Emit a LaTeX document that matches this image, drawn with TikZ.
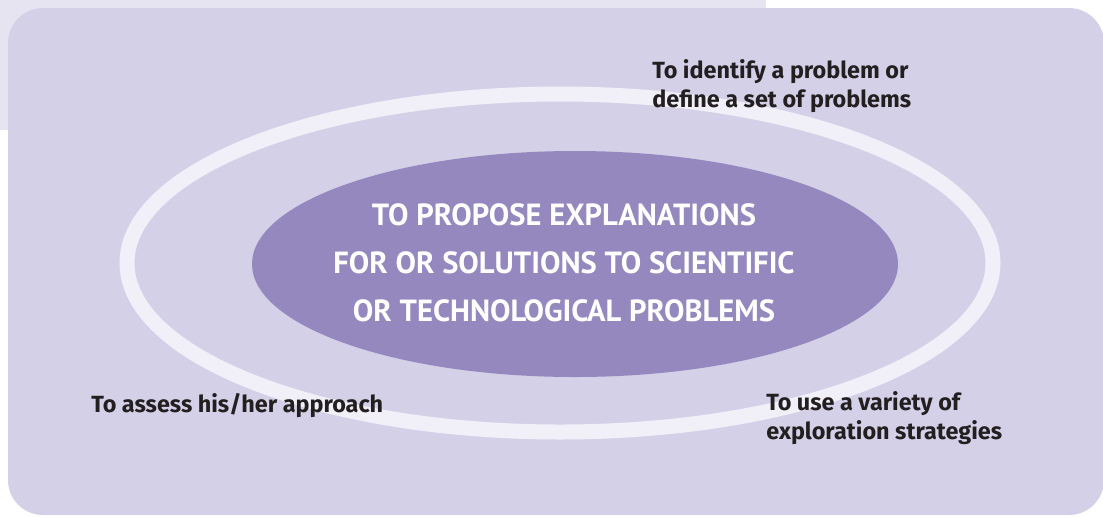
\documentclass[tikz,border=0pt]{standalone}
\usepackage{fontspec}
\setmainfont{PT Sans}
\newfontfamily\labelfont{Fira Sans}
\usepackage{xcolor}
\usetikzlibrary{shapes.geometric}

\definecolor{panel}{HTML}{D4D0E7}
\definecolor{strip}{HTML}{E6E4F1}
\definecolor{ring}{HTML}{F1F0F8}
\definecolor{core}{HTML}{9488BF}
\definecolor{ink}{HTML}{231F20}

\begin{document}
\begin{tikzpicture}[
  x=0.5pt, y=-0.5pt,
  goal/.style={ellipse, fill=core, inner sep=0pt,
               minimum width=323pt, minimum height=113pt},
  goaltext/.style={text=white, inner sep=0pt, align=center,
                   font=\fontsize{15.3}{24}\selectfont\bfseries},
  skill/.style={text=ink, inner sep=0pt, anchor=north west, align=left,
                font=\labelfont\fontsize{11.7}{14.8}\selectfont\bfseries}
]
\useasboundingbox (0,0) rectangle (1103,516);
% --- background ---
\fill[strip] (0,0) rectangle (766,130);
\fill[panel, rounded corners=17.5pt] (8,8) rectangle (1104,515);
\draw[ring, line width=7.5pt] (560,263) ellipse [x radius=216.5pt, y radius=84.5pt];
% --- centre ---
\node[goal] (g) at (575,264) {};
\node[goaltext] (gt) at (564,263) {TO PROPOSE EXPLANATIONS\\
  FOR OR SOLUTIONS TO SCIENTIFIC\\ OR TECHNOLOGICAL PROBLEMS};
% --- competencies ---
\node[skill] (s1) at (652,59) {To identify a problem or\\ define a set of problems};
\node[skill] (s2) at (766,391) {To use a variety of\\ exploration strategies};
\node[skill] (s3) at (91,393) {To assess his/her approach};
\end{tikzpicture}
\end{document}
